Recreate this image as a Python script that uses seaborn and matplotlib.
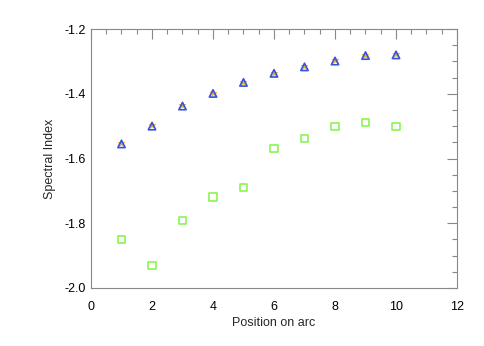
import numpy as np
import pandas as pd
import seaborn as sns
import matplotlib.pyplot as plt
from matplotlib.ticker import MultipleLocator

positions = [1, 2, 3, 4, 5, 6, 7, 8, 9, 10]
index_a = [-1.555, -1.500, -1.438, -1.399, -1.365, -1.337, -1.317, -1.299, -1.282, -1.280]
index_b = [-1.553, -1.498, -1.436, -1.397, -1.363, -1.335, -1.314, -1.297, -1.280, -1.278]
index_c = [-1.850, -1.930, -1.791, -1.719, -1.689, -1.569, -1.537, -1.500, -1.489, -1.500]

df = pd.DataFrame({"pos": positions, "a": index_a, "b": index_b, "c": index_c})

sns.set_style("white")
plt.rcParams['font.family'] = ['Liberation Sans', 'DejaVu Sans']

fig = plt.figure(figsize=(4.85, 3.46), dpi=100)
ax = fig.add_axes([91 / 485, 1 - 288 / 346, 366 / 485, 259 / 346])

sns.scatterplot(data=df, x="pos", y="b", ax=ax, marker="*", s=28,
                color="#f5a623", edgecolor="#f5a623", linewidth=0.3, zorder=3)
sns.scatterplot(data=df, x="pos", y="a", ax=ax, marker="^", s=28,
                facecolor="none", edgecolor="#3355dd", linewidth=1.2, zorder=4)
sns.scatterplot(data=df, x="pos", y="c", ax=ax, marker="s", s=26,
                facecolor="none", edgecolor="#7ef542", linewidth=1.1, zorder=3)

ax.set_xlim(0, 12)
ax.set_ylim(-2.0, -1.2)
ax.xaxis.set_major_locator(MultipleLocator(2))
ax.xaxis.set_minor_locator(MultipleLocator(0.5))
ax.yaxis.set_major_locator(MultipleLocator(0.2))
ax.yaxis.set_minor_locator(MultipleLocator(0.05))
ax.yaxis.set_major_formatter(plt.FuncFormatter(lambda v, p: f"{v:.1f}"))

ax.tick_params(which="both", direction="in", top=True, right=True,
               color="#888888", labelsize=9, labelcolor="black")
ax.tick_params(which="major", length=7, width=0.8)
ax.tick_params(axis="y", which="major", pad=4)
ax.tick_params(axis="x", which="major", pad=9)
ax.tick_params(which="minor", length=3.5, width=0.8)
for s in ax.spines.values():
    s.set_color("#888888")
    s.set_linewidth(0.8)

ax.set_xlabel("Position on arc", fontsize=9, labelpad=3)
ax.set_ylabel("Spectral Index", fontsize=9, labelpad=6)

fig.savefig("out.png", dpi=100)
